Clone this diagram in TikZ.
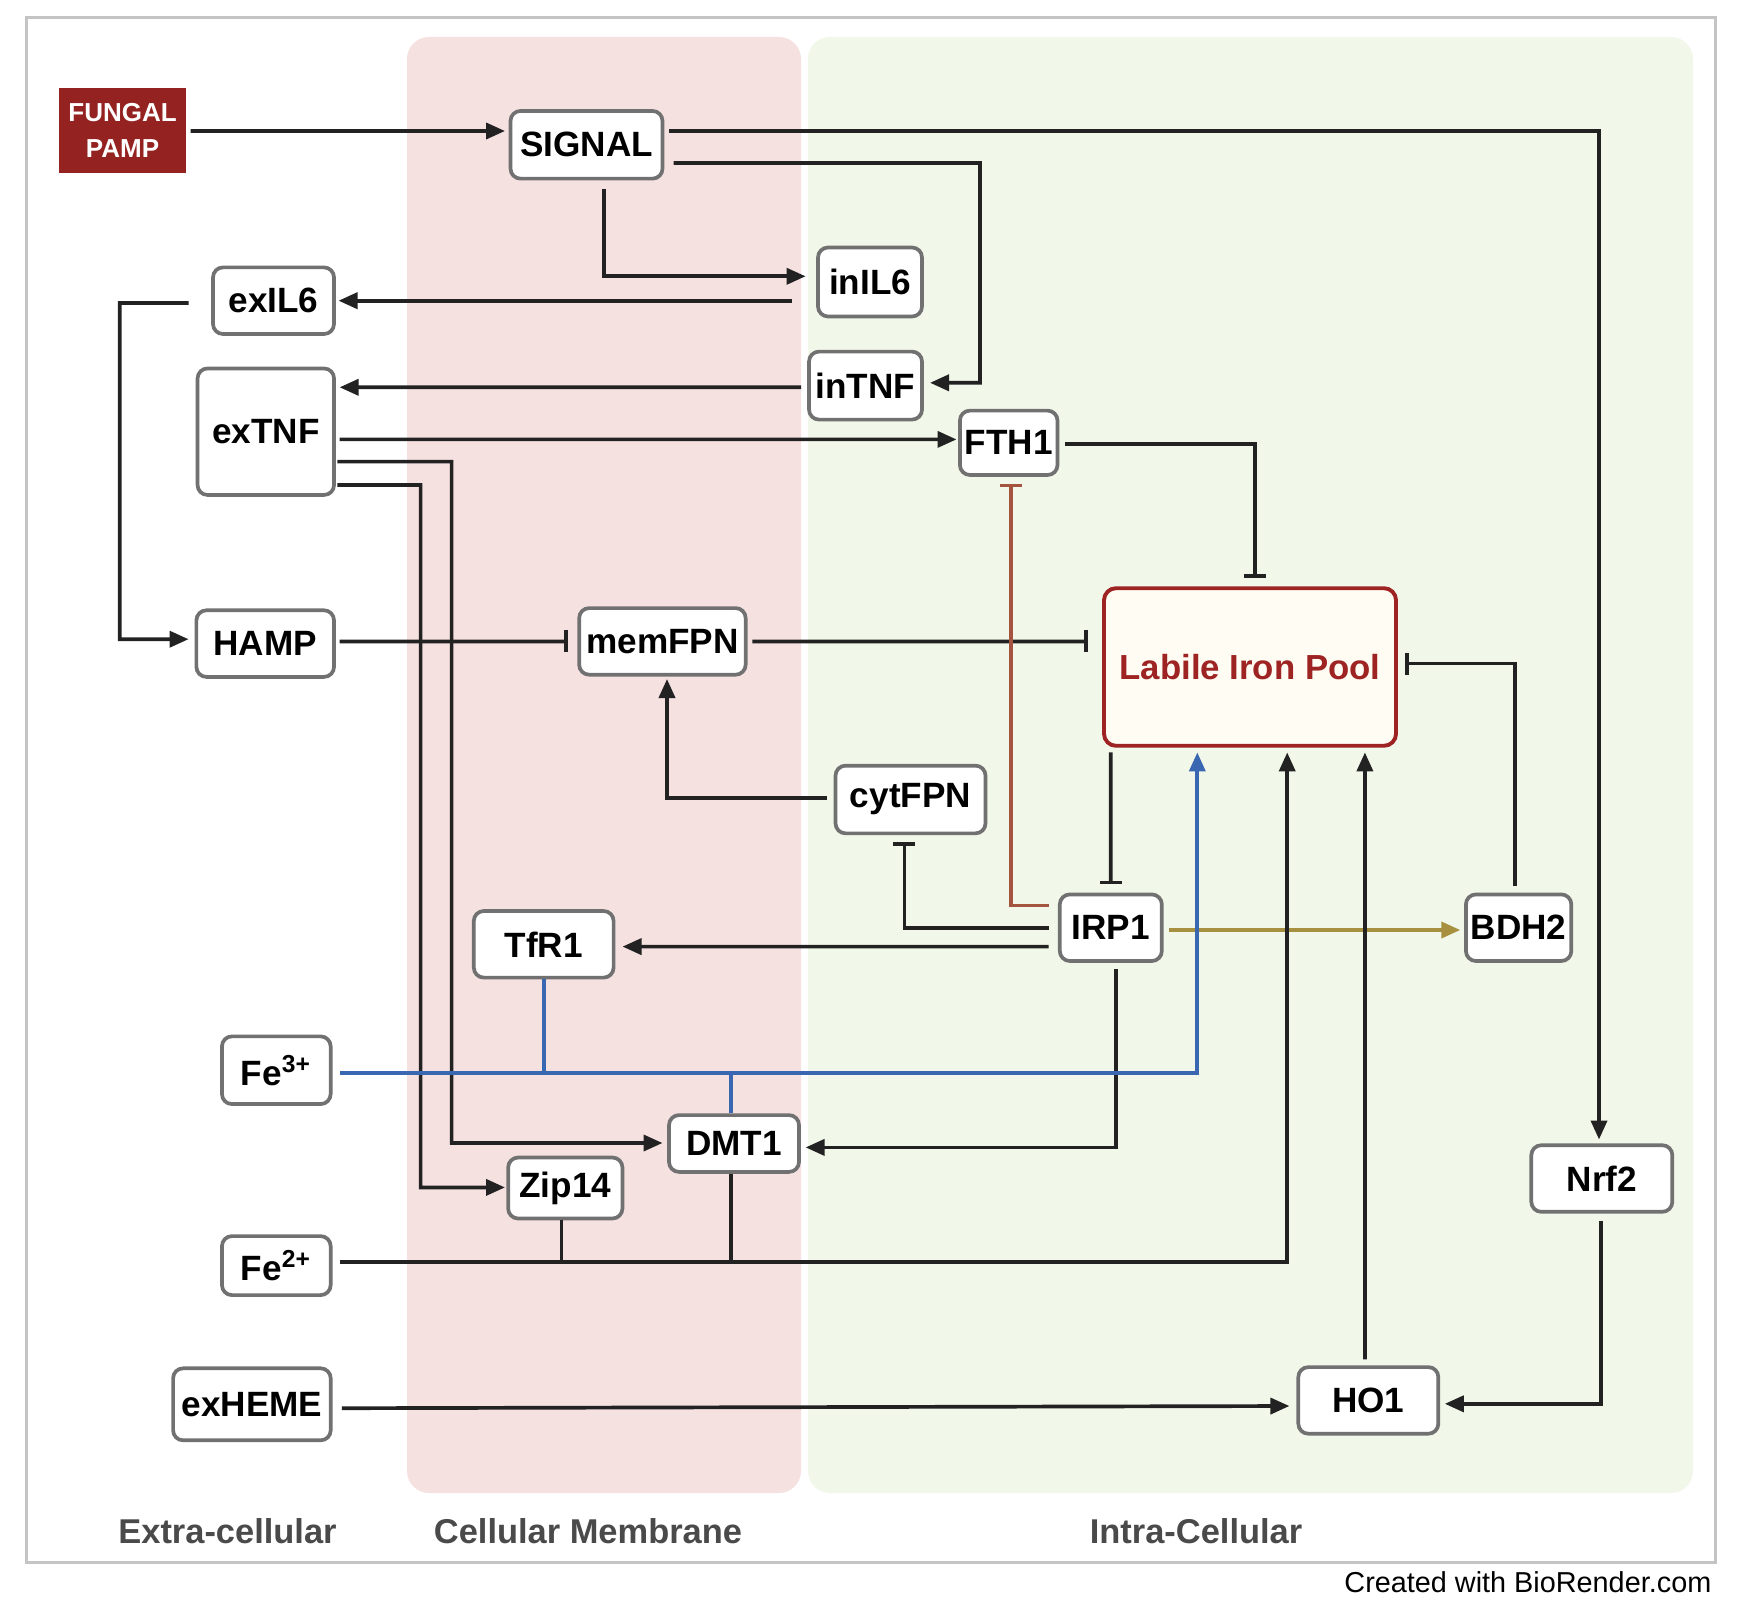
\documentclass[tikz,border=0pt]{standalone}
\usepackage{fontspec}
\setmainfont{Liberation Sans}
\usetikzlibrary{arrows.meta,calc}
\definecolor{lc}{HTML}{222222}
\definecolor{bordgray}{HTML}{717171}
\definecolor{pinkbg}{HTML}{F6E1E1}
\definecolor{greenbg}{HTML}{F1F8E9}
\definecolor{pampred}{HTML}{942220}
\definecolor{lipred}{HTML}{9E2424}
\definecolor{lipfill}{HTML}{FFFCF3}
\definecolor{fe3blue}{HTML}{3A67B1}
\definecolor{brownc}{HTML}{A5553F}
\definecolor{olivec}{HTML}{A89041}
\definecolor{framec}{HTML}{C4C4C4}
\definecolor{lblgray}{HTML}{4A4A4A}
\tikzset{
  box/.style={draw=bordgray, fill=white, line width=1.05pt, rounded corners=1mm, inner sep=0pt, font=\fontsize{10}{12}\selectfont\bfseries},
  arr/.style={draw=lc, line width=1.05pt, -{Triangle[length=1.9mm,width=1.6mm]}},
  tee/.style={draw=lc, line width=1.05pt, -{Bar[width=2.2mm,line width=1.05pt]}},
  plain/.style={draw=lc, line width=1.05pt},
  sectlbl/.style={text=lblgray, font=\fontsize{9.8}{12}\selectfont\bfseries}
}
\begin{document}
\begin{tikzpicture}[x=0.1mm,y=-0.1mm]
\useasboundingbox (0,0) rectangle (1740,1607);
\fill[white] (0,0) rectangle (1740,1607);
% frame and regions
\draw[framec, line width=0.9pt] (26.6,17.8) rectangle (1715.6,1562.5);
\fill[pinkbg, rounded corners=2.2mm] (407,37) rectangle (801,1493);
\fill[greenbg, rounded corners=2.2mm] (808,37) rectangle (1693,1493);

% nodes
\node[fill=pampred, text=white, minimum width=12.76mm, minimum height=8.54mm, inner sep=0pt, align=center, font=\fontsize{7.4}{10.2}\selectfont\bfseries] (pamp) at (122.6,130.4) {FUNGAL\\PAMP};
\node[box, minimum width=15.2mm, minimum height=6.77mm] (signal) at (586.5,144.8) {SIGNAL};
\node[box, minimum width=10.4mm, minimum height=6.9mm] (inil6) at (870,282) {inIL6};
\node[box, minimum width=12.1mm, minimum height=6.66mm] (exil6) at (273.5,300.7) {exIL6};
\node[box, minimum width=11.3mm, minimum height=6.8mm] (intnf) at (865.5,385.6) {inTNF};
\node[box, minimum width=13.65mm, minimum height=12.65mm] (extnf) at (265.8,431.7) {exTNF};
\node[box, minimum width=9.76mm, minimum height=6.44mm] (fth1) at (1008.7,442.8) {FTH1};
\node[box, minimum width=13.76mm, minimum height=6.66mm] (hamp) at (265.2,643.6) {HAMP};
\node[box, minimum width=16.65mm, minimum height=6.66mm] (memfpn) at (662.4,641.4) {memFPN};
\node[draw=lipred, fill=lipfill, line width=1.1pt, rounded corners=1.2mm, minimum width=29.2mm, minimum height=15.76mm, inner sep=0pt, text=lipred, font=\fontsize{9.9}{12}\selectfont\bfseries] (lip) at (1250,667) {Labile Iron Pool};
\node[box, minimum width=15mm, minimum height=6.77mm] (cytfpn) at (910.5,799.5) {cytFPN};
\node[box, minimum width=10.2mm, minimum height=6.66mm] (irp1) at (1110.8,927.7) {IRP1};
\node[box, minimum width=10.54mm, minimum height=6.66mm] (bdh2) at (1518.6,927.7) {BDH2};
\node[box, minimum width=13.98mm, minimum height=6.66mm] (tfr1) at (543.7,944.3) {TfR1};
\node[box, minimum width=10.87mm, minimum height=6.77mm] (fe3) at (276.3,1070.2) {Fe\textsuperscript{3+}};
\node[box, minimum width=13mm, minimum height=5.68mm] (dmt1) at (734,1143.5) {DMT1};
\node[box, minimum width=11.43mm, minimum height=6.1mm] (zip14) at (565.3,1188) {Zip14};
\node[box, minimum width=14.1mm, minimum height=6.66mm] (nrf2) at (1601.8,1178.5) {Nrf2};
\node[box, minimum width=10.87mm, minimum height=5.9mm] (fe2) at (276.3,1265.6) {Fe\textsuperscript{2+}};
\node[box, minimum width=15.76mm, minimum height=7.2mm] (exheme) at (251.9,1404.3) {exHEME};
\node[box, minimum width=14mm, minimum height=6.66mm] (ho1) at (1368.3,1400.4) {HO1};

% section labels
\node[sectlbl] (lext) at (227.5,1531.4) {Extra-cellular};
\node[sectlbl] (lmem) at (588,1531.4) {Cellular Membrane};
\node[sectlbl] (lint) at (1196,1531.4) {Intra-Cellular};
\node[anchor=east, inner sep=0pt, font=\fontsize{8.2}{10}\selectfont] (credit) at (1712,1582.4) {Created with BioRender.com};

% connectors
\draw[arr] ($(pamp)+(68,0.6)$) -- ($(signal)+(-81.5,-13.8)$);
\draw[arr] ($(signal)+(82.5,-13.8)$) -| ($(nrf2)+(-2.8,-39)$);
\draw[arr] ($(signal)+(87,18.2)$) -- (980,163) |- ($(intnf)+(64.5,-2.8)$);
\draw[arr] ($(signal)+(17.2,43.8)$) |- ($(inil6)+(-64.4,-5.7)$);
\draw[arr] ($(inil6)+(-77.7,18.7)$) -- ($(exil6)+(65,0)$);
\draw[arr] ($(exil6)+(-84.9,2.3)$) -- (119.8,303) |- ($(hamp)+(-76.6,-4.4)$);
\draw[arr] ($(intnf)+(-64.5,1.7)$) -- ($(extnf)+(73.8,-44.4)$);
\draw[arr] ($(extnf)+(73.8,7.7)$) -- ($(fth1)+(-52.2,-3.4)$);
\draw[arr] ($(extnf)+(71.5,29.9)$) -- (451.6,461.6) |- ($(dmt1)+(-71.5,-0.5)$);
\draw[arr] ($(extnf)+(71.5,53.3)$) -- (420.6,485) |- ($(zip14)+(-60.3,-0.6)$);
\draw[tee] ($(hamp)+(74.4,-2.2)$) -- ($(memfpn)+(-94.4,0)$);
\draw[tee] ($(memfpn)+(90,0)$) -- ($(lip)+(-162.5,-25.6)$);
\draw[tee] ($(fth1)+(56.6,1.1)$) -| ($(lip)+(5,-89)$);
\draw[tee] ($(bdh2)+(-3.9,-42.2)$) |- ($(lip)+(154.9,-3.4)$);
\draw[tee] ($(lip)+(-139.2,85.4)$) -- ($(irp1)+(0,-43.3)$);
\draw[tee, draw=brownc] ($(irp1)+(-62.1,-22.2)$) -| ($(fth1)+(2.3,41)$);
\draw[tee] ($(irp1)+(-62.1,0)$) -| ($(cytfpn)+(-6.1,42.8)$);
\draw[arr] ($(irp1)+(-62.1,18.9)$) -- ($(tfr1)+(78.8,2.3)$);
\draw[arr, draw=olivec] ($(irp1)+(57.7,2.3)$) -- ($(bdh2)+(-58.3,2.3)$);
\draw[arr] ($(irp1)+(5.5,41.1)$) |- ($(dmt1)+(71.6,3.9)$);
\draw[arr] ($(cytfpn)+(-83.8,-1.6)$) -| ($(memfpn)+(4.6,37.6)$);
% Fe3+
\draw[arr, draw=fe3blue] ($(fe3)+(63.3,2.8)$) -| ($(lip)+(-52.7,85.4)$);
\draw[plain, draw=fe3blue] (tfr1.south) -- (543.7,1073);
\draw[plain, draw=fe3blue] (731.3,1073) -- (dmt1.north -| 731.3,0);
% Fe2+
\draw[arr] ($(fe2)+(63.3,-3.9)$) -| ($(lip)+(37.2,85.4)$);
\draw[plain] (zip14.south -| 561.5,0) -- (561.5,1261.7);
\draw[plain] (dmt1.south -| 731.3,0) -- (731.3,1261.7);
% heme
\draw[arr] ($(ho1)+(-3.4,-41)$) -- ($(lip)+(114.9,85.4)$);
\draw[arr] ($(nrf2)+(-0.5,42.2)$) |- ($(ho1)+(76.5,3.4)$);
\draw[arr] ($(exheme)+(89.9,3.9)$) -- ($(ho1)+(-78.9,5.6)$);
\end{tikzpicture}
\end{document}
